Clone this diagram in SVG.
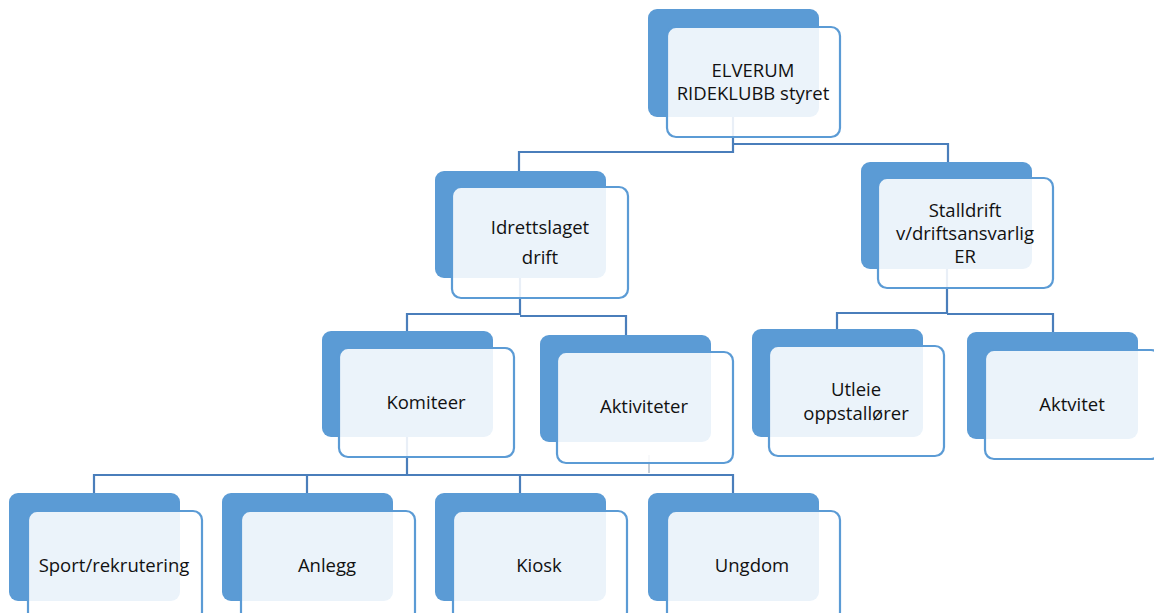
<svg xmlns="http://www.w3.org/2000/svg" width="1154" height="613" viewBox="0 0 1154 613">
<style>
.back{fill:#5B9BD5;}
.front{fill:#FFFFFF;fill-opacity:0.88;stroke:#5B9BD5;stroke-width:2.2;}
.conn{fill:none;stroke:#4A7EBB;stroke-width:2.2;}
.tick{fill:none;stroke:#8A9BB0;stroke-width:1;}
text{font-family:"Open Sans","Liberation Sans",sans-serif;font-size:18.5px;fill:#111;text-anchor:middle;}
</style>
<rect width="1154" height="613" fill="#FFFFFF"/>
<g id="backs">
<rect class="back" x="648" y="9" width="171" height="108" rx="9"/>
<rect class="back" x="435" y="171" width="171" height="107" rx="9"/>
<rect class="back" x="861" y="162" width="171" height="107" rx="9"/>
<rect class="back" x="322" y="331" width="171" height="106" rx="9"/>
<rect class="back" x="540" y="335" width="171" height="107" rx="9"/>
<rect class="back" x="752" y="329" width="171" height="108" rx="9"/>
<rect class="back" x="967" y="332" width="171" height="107" rx="9"/>
<rect class="back" x="9" y="493" width="171" height="108" rx="9"/>
<rect class="back" x="222" y="493" width="171" height="108" rx="9"/>
<rect class="back" x="435" y="493" width="171" height="108" rx="9"/>
<rect class="back" x="648" y="493" width="171" height="108" rx="9"/>
</g>
<g id="connectors">
<path class="conn" d="M733 117 V152 H519 V171"/>
<path class="conn" d="M733 144 H948 V162"/>
<path class="conn" d="M520 278 V314 H407 V331"/>
<path class="conn" d="M520 316 H626 V335"/>
<path class="conn" d="M947 269 V313 H837 V329"/>
<path class="conn" d="M947 314 H1053 V332"/>
<path class="conn" d="M407 437 V475 H94 V493"/>
<path class="conn" d="M307 475 V493"/>
<path class="conn" d="M407 475 H733 V493"/>
<path class="conn" d="M520 475 V493"/>
<path class="tick" d="M649 455 V473"/>
</g>
<g id="n-elverum">
<rect class="front" x="667" y="27" width="173" height="110" rx="9"/>
<text x="753" y="77">ELVERUM</text>
<text x="753" y="100">RIDEKLUBB styret</text>
</g>
<g id="n-idrettslaget">
<rect class="front" x="452" y="187" width="176" height="111" rx="9"/>
<text x="540" y="234">Idrettslaget</text>
<text x="540" y="264">drift</text>
</g>
<g id="n-stalldrift">
<rect class="front" x="878" y="178" width="175" height="110" rx="9"/>
<text x="965" y="217">Stalldrift</text>
<text x="965" y="240">v/driftsansvarlig</text>
<text x="965" y="263">ER</text>
</g>
<g id="n-komiteer">
<rect class="front" x="339" y="348" width="175" height="109" rx="9"/>
<text x="426" y="409">Komiteer</text>
</g>
<g id="n-aktiviteter">
<rect class="front" x="557" y="352" width="176" height="111" rx="9"/>
<text x="644" y="413">Aktiviteter</text>
</g>
<g id="n-utleie">
<rect class="front" x="769" y="346" width="175" height="110" rx="9"/>
<text x="856" y="396">Utleie</text>
<text x="856" y="420">oppstallører</text>
</g>
<g id="n-aktvitet">
<rect class="front" x="985" y="350" width="175" height="109" rx="9"/>
<text x="1072" y="411">Aktvitet</text>
</g>
<g id="n-sport">
<rect class="front" x="28" y="511" width="174" height="110" rx="9"/>
<text x="114" y="572">Sport/rekrutering</text>
</g>
<g id="n-anlegg">
<rect class="front" x="241" y="511" width="174" height="110" rx="9"/>
<text x="327" y="572">Anlegg</text>
</g>
<g id="n-kiosk">
<rect class="front" x="453" y="511" width="174" height="110" rx="9"/>
<text x="539" y="572">Kiosk</text>
</g>
<g id="n-ungdom">
<rect class="front" x="667" y="511" width="173" height="110" rx="9"/>
<text x="752" y="572">Ungdom</text>
</g>
</svg>
